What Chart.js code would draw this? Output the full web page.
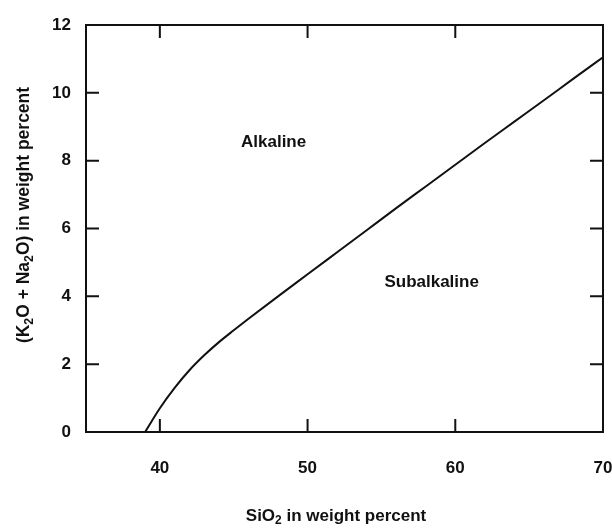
<!DOCTYPE html>
<html>
<head>
<meta charset="utf-8">
<script src="https://cdn.jsdelivr.net/npm/chart.js@4.4.1/dist/chart.umd.min.js"></script>
<style>
  html, body { margin: 0; padding: 0; background: #fff; }
  #wrap { width: 612px; height: 530px; }
</style>
</head>
<body>
<div id="wrap"><canvas id="tasChart" width="612" height="530"></canvas></div>
<script>
// boundary line between alkaline and subalkaline fields
const silica = [39, 40, 41, 42, 43, 44, 45, 46, 48, 50, 52, 54, 56, 58, 60, 62, 64, 66, 68, 70];
const alkalis = [0, 0.7, 1.3, 1.82, 2.26, 2.65, 3.0, 3.34, 4.0, 4.65, 5.3, 5.95, 6.6, 7.24, 7.88, 8.52, 9.15, 9.78, 10.42, 11.05];

const xTicks = [40, 50, 60, 70];
const yTicks = [0, 2, 4, 6, 8, 10, 12];

const fieldNames = ["Alkaline", "Subalkaline"];
const fieldSpots = [[47.7, 8.55], [58.4, 4.4]];

const ink = "#111";
const fontFamily = "'Liberation Sans', Arial, Helvetica, sans-serif";

// text with subscript pieces, e.g. [["SiO"], ["2", true], [" in weight percent"]]
function richWidth(ctx, parts, size) {
  let w = 0;
  for (const [t, sub] of parts) {
    ctx.font = "bold " + (sub ? size * 0.7 : size) + "px " + fontFamily;
    w += ctx.measureText(t).width;
  }
  return w;
}
function drawRich(ctx, parts, size, x, y) {
  let cx = x - richWidth(ctx, parts, size) / 2;
  ctx.textAlign = "left";
  ctx.textBaseline = "middle";
  for (const [t, sub] of parts) {
    ctx.font = "bold " + (sub ? size * 0.7 : size) + "px " + fontFamily;
    ctx.fillText(t, cx, sub ? y + size * 0.3 : y);
    cx += ctx.measureText(t).width;
  }
}

const framePlugin = {
  id: "frame",
  afterDatasetsDraw(chart) {
    const ctx = chart.ctx;
    const a = chart.chartArea;
    const xs = chart.scales.x, ys = chart.scales.y;
    const tl = 13;
    ctx.save();
    ctx.strokeStyle = ink;
    ctx.lineWidth = 2;
    ctx.strokeRect(a.left, a.top, a.right - a.left, a.bottom - a.top);
    ctx.beginPath();
    for (const v of xTicks) {
      const px = xs.getPixelForValue(v);
      ctx.moveTo(px, a.bottom); ctx.lineTo(px, a.bottom - tl);
      ctx.moveTo(px, a.top); ctx.lineTo(px, a.top + tl);
    }
    for (const v of yTicks) {
      const py = ys.getPixelForValue(v);
      ctx.moveTo(a.left, py); ctx.lineTo(a.left + tl, py);
      ctx.moveTo(a.right, py); ctx.lineTo(a.right - tl, py);
    }
    ctx.stroke();

    ctx.fillStyle = ink;
    ctx.font = "bold 17px " + fontFamily;
    ctx.textAlign = "center";
    ctx.textBaseline = "middle";
    fieldNames.forEach((name, i) => {
      ctx.fillText(name, xs.getPixelForValue(fieldSpots[i][0]), ys.getPixelForValue(fieldSpots[i][1]));
    });

    // axis titles
    drawRich(ctx, [["SiO"], ["2", true], [" in weight percent"]], 17, 336, 516);
    ctx.translate(24, 215);
    ctx.rotate(-Math.PI / 2);
    drawRich(ctx, [["(K"], ["2", true], ["O + Na"], ["2", true], ["O) in weight percent"]], 17.5, 0, 0);
    ctx.restore();
  }
};

new Chart(document.getElementById("tasChart"), {
  type: "scatter",
  data: {
    datasets: [{
      data: silica.map((s, i) => ({ x: s, y: alkalis[i] })),
      showLine: true,
      borderColor: ink,
      borderWidth: 2,
      pointRadius: 0,
      cubicInterpolationMode: "monotone"
    }]
  },
  options: {
    responsive: false,
    animation: false,
    events: [],
    layout: { padding: { left: 0, top: 25, right: 9, bottom: 0 } },
    plugins: { legend: { display: false }, tooltip: { enabled: false } },
    scales: {
      x: {
        type: "linear",
        min: 35,
        max: 70,
        grid: { display: false },
        border: { display: false },
        afterBuildTicks: (axis) => { axis.ticks = xTicks.map(v => ({ value: v })); },
        afterFit: (axis) => { axis.height = 98; axis.paddingLeft = 0; axis.paddingRight = 0; },
        ticks: { color: ink, padding: 18, maxRotation: 0, font: { family: fontFamily, size: 17, weight: "bold" } }
      },
      y: {
        type: "linear",
        min: 0,
        max: 12,
        grid: { display: false },
        border: { display: false },
        afterBuildTicks: (axis) => { axis.ticks = yTicks.map(v => ({ value: v })); },
        afterFit: (axis) => { axis.width = 86; axis.paddingTop = 0; axis.paddingBottom = 0; },
        ticks: { color: ink, padding: 7, font: { family: fontFamily, size: 17, weight: "bold" } }
      }
    }
  },
  plugins: [framePlugin]
});
</script>
</body>
</html>
